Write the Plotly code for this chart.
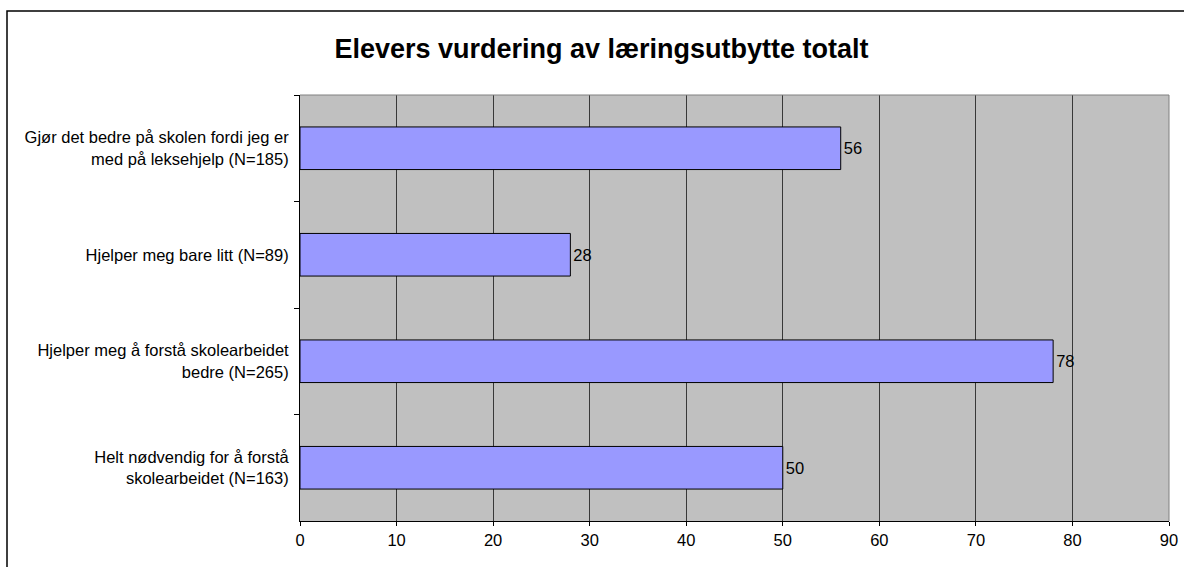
import plotly.graph_objects as go

# data
categories = [
    "Gjør det bedre på skolen fordi jeg er<br>med på leksehjelp (N=185)",
    "Hjelper meg bare litt (N=89)",
    "Hjelper meg å forstå skolearbeidet<br>bedre (N=265)",
    "Helt nødvendig for å forstå<br>skolearbeidet (N=163)",
]
values = [56, 28, 78, 50]
x_ticks = [0, 10, 20, 30, 40, 50, 60, 70, 80, 90]

title_text = "Elevers vurdering av læringsutbytte totalt"
font_family = "Liberation Sans, Arial, sans-serif"

fig = go.Figure()
fig.add_trace(go.Bar(
    y=categories,
    x=values,
    orientation="h",
    marker=dict(color="#9999FF", line=dict(color="#000000", width=1)),
    text=values,
    textposition="outside",
    textfont=dict(family=font_family, size=16.5, color="#000000"),
    cliponaxis=False,
))

fig.update_layout(
    width=1184, height=567,
    margin=dict(l=300, r=15, t=95, b=46),
    paper_bgcolor="white",
    plot_bgcolor="#C0C0C0",
    bargap=0.6,
    showlegend=False,
    font=dict(family=font_family, size=16.5, color="#000000"),
    title=dict(text="<b>" + title_text + "</b>", x=0.508, xanchor="center",
               y=0.915, yanchor="middle",
               font=dict(family=font_family, size=27, color="#000000")),
)

fig.update_xaxes(
    range=[0, 90], tickvals=x_ticks, ticks="outside", ticklen=4,
    tickcolor="#000000", showgrid=True, gridcolor="#383838", gridwidth=1,
    showline=True, linecolor="#000000", linewidth=1, zeroline=False,
    tickfont=dict(size=16.5), automargin=False,
)
fig.update_yaxes(
    autorange="reversed", tickson="boundaries", ticks="outside", ticklen=5,
    tickcolor="#000000", showgrid=False, showline=True, linecolor="#000000",
    linewidth=1, tickfont=dict(size=16.5), ticklabelstandoff=7, automargin=False,
)

# gray top/right edges of the plot area
fig.add_shape(type="line", xref="paper", yref="paper", x0=0, x1=1, y0=1, y1=1,
              line=dict(color="#808080", width=1))
fig.add_shape(type="line", xref="paper", yref="paper", x0=1, x1=1, y0=0, y1=1,
              line=dict(color="#808080", width=1))

# outer chart border (runs off the right and bottom of the picture)
fig.add_shape(type="rect", xref="paper", yref="paper",
              x0=(7 - 300) / 869, x1=1.1, y0=-0.5, y1=(521 - 11) / 426,
              line=dict(color="#000000", width=1.5), layer="below")

# page body margin would push the figure 8px down/right
fig.write_html("out.html", config={"displayModeBar": False},
               post_script="document.body.style.margin='0';")
